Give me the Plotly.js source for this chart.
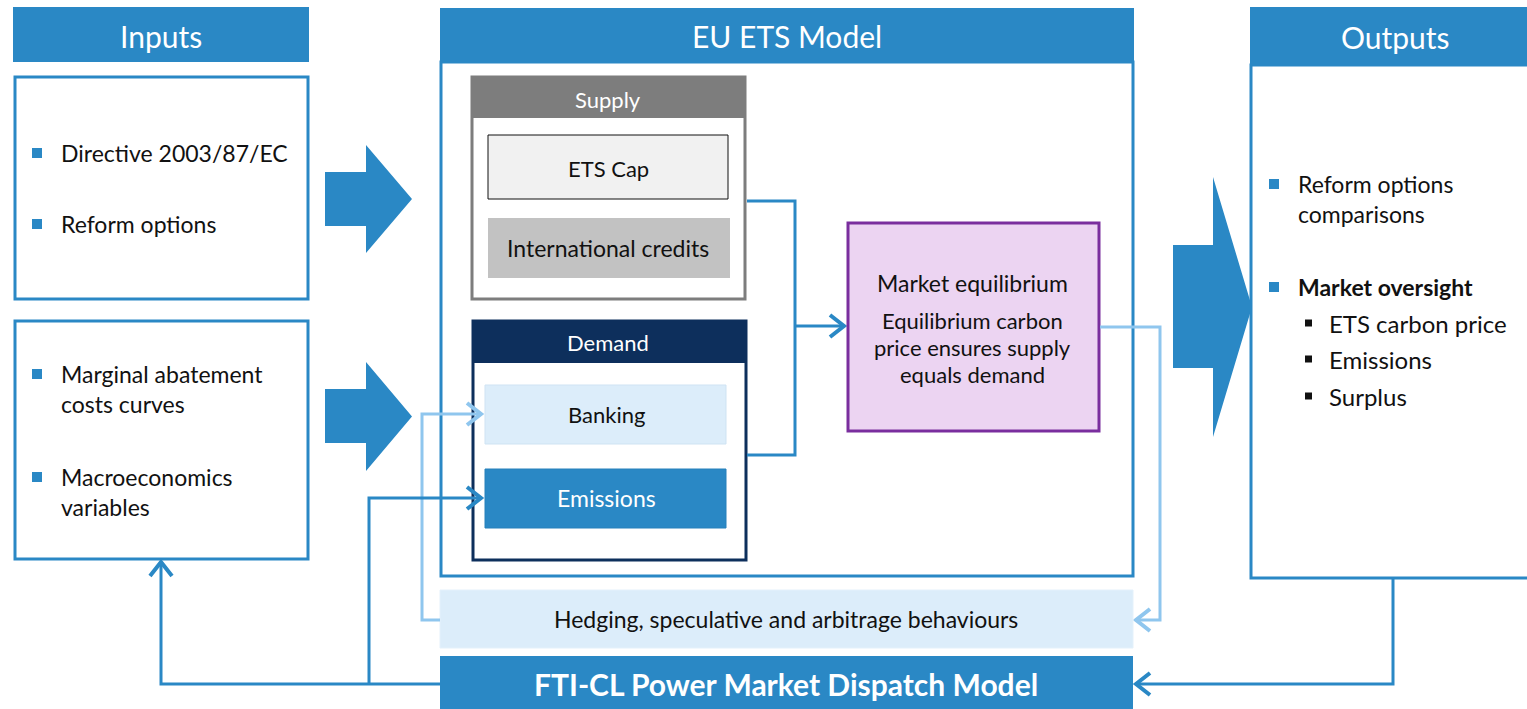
<!DOCTYPE html>
<html>
<head>
<meta charset="utf-8">
<script src="https://cdn.plot.ly/plotly-3.0.1.min.js"></script>
<style>html,body{margin:0;padding:0;background:#fff;}#chart{width:1527px;height:709px;}</style>
</head>
<body>
<div id="chart"></div>
<script>
// ---- content ----
const sectionTitles = ["Inputs", "EU ETS Model", "Outputs"];
const inputsTop = [["Directive 2003/87/EC"], ["Reform options"]];
const inputsBottom = [["Marginal abatement", "costs curves"], ["Macroeconomics", "variables"]];
const supplyTitle = "Supply";
const supplyItems = ["ETS Cap", "International credits"];
const demandTitle = "Demand";
const demandItems = ["Banking", "Emissions"];
const equilibriumTitle = "Market equilibrium";
const equilibriumBody = ["Equilibrium carbon", "price ensures supply", "equals demand"];
const outputsMain = [["Reform options", "comparisons"], ["Market oversight"]];
const outputsSub = ["ETS carbon price", "Emissions", "Surplus"];
const hedgingLabel = "Hedging, speculative and arbitrage behaviours";
const dispatchLabel = "FTI-CL Power Market Dispatch Model";

// ---- styles ----
const BLUE = "#2a88c5", NAVY = "#0d2f5c", GREY = "#7d7d7d", LIGHT = "#dcedfa",
      LLINE = "#8fc6ee", PURPLE = "#7a2e9e", PFILL = "#ecd4f2", FONT = "Lato, 'Open Sans', sans-serif";

const shapes = [];
const ann = [];
function rect(x0, y0, x1, y1, fill, line, w) {
  shapes.push({type: "rect", xref: "x", yref: "y", x0, y0, x1, y1, fillcolor: fill,
    line: {color: line || fill, width: w === undefined ? 0 : w}, layer: "above"});
}
function path(d, color, w, fill) {
  shapes.push({type: "path", xref: "x", yref: "y", path: d,
    fillcolor: fill || "rgba(0,0,0,0)", line: {color: color, width: w}, layer: "above"});
}
function txt(x, y, s, size, color, opts) {
  opts = opts || {};
  ann.push({x, y, xref: "x", yref: "y", text: opts.bold ? "<b>" + s + "</b>" : s, showarrow: false,
    xanchor: opts.anchor || "center", yanchor: "middle",
    font: {family: opts.family || FONT, size, color}});
}
function chevron(x, y, dir, color) {
  const L = 14, H = 11;
  let d;
  if (dir === "right") d = `M ${x-L} ${y-H} L ${x} ${y} L ${x-L} ${y+H}`;
  if (dir === "left") d = `M ${x+L} ${y-H} L ${x} ${y} L ${x+L} ${y+H}`;
  if (dir === "up") d = `M ${x-H} ${y+L} L ${x} ${y} L ${x+H} ${y+L}`;
  path(d, color, 4);
}
function bigArrow(x0, xs, xt, ys0, ys1, yh0, yh1) {
  const ym = (yh0 + yh1) / 2;
  path(`M ${x0} ${ys0} L ${xs} ${ys0} L ${xs} ${yh0} L ${xt} ${ym} L ${xs} ${yh1} L ${xs} ${ys1} L ${x0} ${ys1} Z`, BLUE, 0, BLUE);
}

const TXT = 23;

// ---- Inputs column ----
rect(13, 7, 309, 62, BLUE);
txt(161, 36, sectionTitles[0], 30, "#ffffff");
rect(15, 77, 308, 299, "#ffffff", BLUE, 3);
rect(15, 321, 308, 559, "#ffffff", BLUE, 3);
const topY = [153, 224];
inputsTop.forEach((lines, i) => {
  rect(32, topY[i] - 5, 42, topY[i] + 5, BLUE);
  lines.forEach((l, j) => txt(59, topY[i] + j * 30, l, TXT, "#111", {anchor: "left"}));
});
const botY = [374, 477];
inputsBottom.forEach((lines, i) => {
  rect(32, botY[i] - 5, 42, botY[i] + 5, BLUE);
  lines.forEach((l, j) => txt(59, botY[i] + j * 30, l, TXT, "#111", {anchor: "left"}));
});
bigArrow(325, 366, 412, 172, 226, 145, 253);
bigArrow(325, 366, 412, 389, 443, 362, 471);

// ---- EU ETS model ----
rect(440, 8, 1134, 62, BLUE);
txt(787, 36, sectionTitles[1], 30, "#ffffff");
rect(441, 62, 1133, 576, "#ffffff", BLUE, 3);

// supply
rect(472, 77, 745, 299, "#ffffff", GREY, 3);
rect(472, 77, 745, 118, GREY);
txt(608, 99, supplyTitle, 22, "#ffffff");
rect(488, 135, 728, 199, "#f1f1f1", "#111", 1);
txt(608, 168, supplyItems[0], 22, "#111");
rect(488, 218, 730, 278, "#c2c2c2", "#c2c2c2", 0);
txt(608, 248, supplyItems[1], 23, "#111");

// demand
rect(473, 321, 746, 560, "#ffffff", NAVY, 3);
rect(473, 321, 746, 363, NAVY);
txt(608, 342, demandTitle, 22, "#ffffff");
rect(485, 385, 726, 444, LIGHT, "#cfe3f3", 1);
txt(606, 414, demandItems[0], 22, "#111");
rect(485, 469, 726, 528, BLUE, "#2680bb", 1);
txt(606, 498, demandItems[1], 23, "#ffffff");

// connectors supply/demand -> equilibrium
path("M 747 201 L 795 201 L 795 455 L 747 455", BLUE, 3);
path("M 795 326 L 843 326", BLUE, 3);
chevron(844, 326, "right", BLUE);

// equilibrium
rect(848, 223, 1099, 431, PFILL, PURPLE, 3);
txt(972, 283, equilibriumTitle, 23, "#111");
equilibriumBody.forEach((l, j) => txt(972, 320 + j * 27, l, 22, "#111"));

// hedging loop
path("M 1100 327 L 1160 327 L 1160 620 L 1137 620", LLINE, 3);
chevron(1136, 620, "left", LLINE);
rect(440, 590, 1133, 648, LIGHT, "#e4f1fb", 1);
txt(786, 619, hedgingLabel, 23, "#111");
path("M 440 620 L 422 620 L 422 414 L 480 414", LLINE, 3);
chevron(481, 414, "right", LLINE);

// dispatch model
rect(440, 656, 1133, 709, BLUE);
txt(786, 684, dispatchLabel, 30, "#ffffff", {bold: true});
path("M 440 684 L 161 684 L 161 563", BLUE, 3);
chevron(161, 562, "up", BLUE);
path("M 369 684 L 369 498 L 480 498", BLUE, 3);
chevron(481, 498, "right", BLUE);
path("M 1393 579 L 1393 684 L 1137 684", BLUE, 3);
chevron(1136, 684, "left", BLUE);

// ---- Outputs ----
bigArrow(1173, 1213, 1252, 245, 368, 177, 437);
rect(1250, 7, 1530, 65, BLUE);
txt(1395, 37, sectionTitles[2], 30, "#ffffff");
rect(1251, 65, 1530, 578, "#ffffff", BLUE, 3);
const outY = [184, 287];
outputsMain.forEach((lines, i) => {
  rect(1269, outY[i] - 5, 1279, outY[i] + 5, BLUE);
  lines.forEach((l, j) => txt(1296, outY[i] + j * 30, l, TXT, "#111", {anchor: "left", bold: i === 1}));
});
const subY = [323, 359, 396];
outputsSub.forEach((l, i) => {
  rect(1305, subY[i] - 3.5, 1312, subY[i] + 3.5, "#111");
  txt(1327, subY[i], l, 24, "#111", {anchor: "left"});
});

const layout = {
  width: 1527, height: 709,
  margin: {l: 0, r: 0, t: 0, b: 0, pad: 0},
  paper_bgcolor: "#ffffff", plot_bgcolor: "#ffffff",
  xaxis: {range: [0, 1527], visible: false, fixedrange: true},
  yaxis: {range: [709, 0], visible: false, fixedrange: true},
  showlegend: false,
  shapes: shapes,
  annotations: ann
};
Plotly.newPlot("chart", [{type: "scatter", x: [], y: [], hoverinfo: "skip", showlegend: false}], layout, {staticPlot: true, displayModeBar: false});
</script>
</body>
</html>
